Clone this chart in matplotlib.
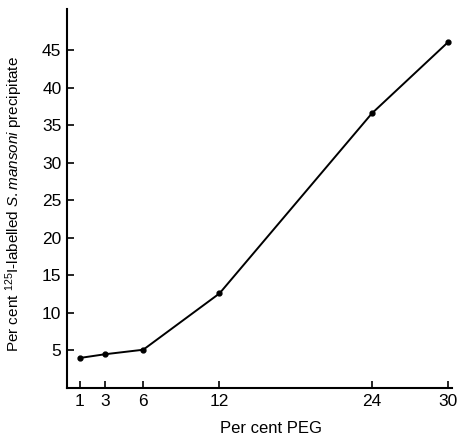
import numpy as np
import matplotlib
matplotlib.use('Agg')
import matplotlib.pyplot as plt

peg = [1, 3, 6, 12, 24, 30]
precip = [4.0, 4.5, 5.1, 12.6, 36.6, 46.1]
xticks = [1, 3, 6, 12, 24, 30]
yticks = [5, 10, 15, 20, 25, 30, 35, 40, 45]

plt.rcParams['font.family'] = ['Liberation Sans', 'DejaVu Sans']
plt.rcParams['mathtext.fontset'] = 'custom'
plt.rcParams['mathtext.rm'] = 'Liberation Sans'
plt.rcParams['mathtext.it'] = 'Liberation Sans:italic'

fig = plt.figure(figsize=(4.65, 4.37), dpi=100)
ax = fig.add_axes([67/465, 1-388/437, (452-67)/465, (388-9)/437])

ax.plot(peg, precip, color='black', lw=1.4, marker='o', ms=3.5)

ax.set_xlim(0, 30.3)
ax.set_ylim(0, 50.5)
ax.set_xticks(xticks)
ax.set_yticks(yticks)
ax.tick_params(direction='in', length=5, width=1.2, labelsize=12.5, pad=4)
for s in ['top', 'right']:
    ax.spines[s].set_visible(False)
for s in ['left', 'bottom']:
    ax.spines[s].set_linewidth(1.5)

ax.set_xlabel('Per cent PEG', fontsize=12)
ax.xaxis.set_label_coords(0.53, -0.086)
ax.set_ylabel(r'Per cent $^{125}$I-labelled $\mathit{S. mansoni}$ precipitate', fontsize=11)
ax.yaxis.set_label_coords(-0.108, 0.485)

fig.savefig('out.png', dpi=100)
